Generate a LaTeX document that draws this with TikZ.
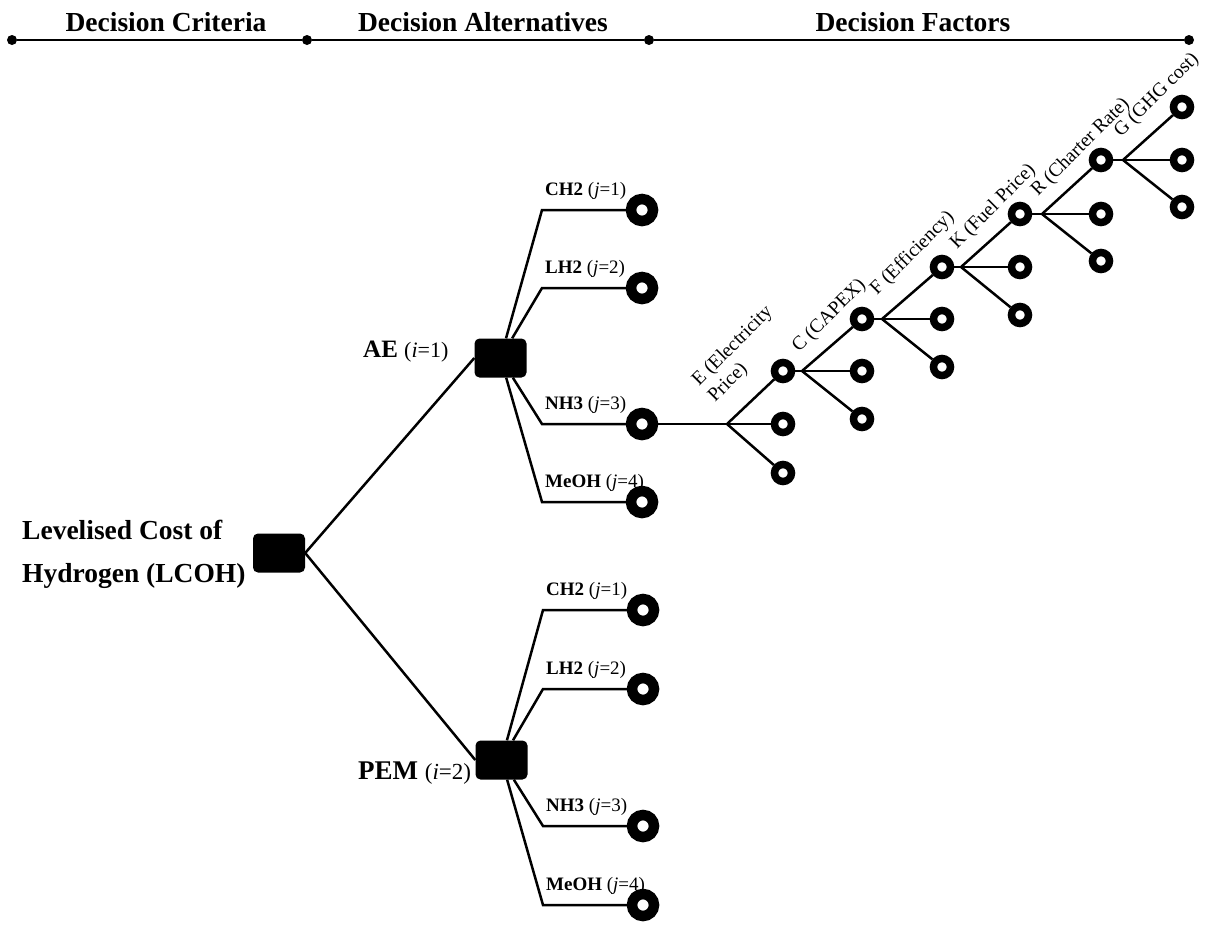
\documentclass[tikz,border=0pt]{standalone}
\usepackage{fontspec}
\setmainfont{Liberation Serif}
\begin{document}
\begin{tikzpicture}[x=1pt,y=-1pt,
  conn/.style={line width=2.5pt},
  box/.style={fill=black, rounded corners=5pt, minimum width=52pt, minimum height=39pt, inner sep=0pt},
  leaf/.style={circle, draw=black, fill=white, line width=10.5pt, minimum size=22pt, inner sep=0pt},
  fac/.style={circle, draw=black, fill=white, line width=7.5pt, minimum size=17pt, inner sep=0pt},
  hdr/.style={font=\fontsize{27.5}{30}\selectfont\bfseries, anchor=base, inner sep=0pt},
  roottxt/.style={font=\fontsize{27.5}{30}\selectfont\bfseries, anchor=base west, inner sep=0pt},
  lbl/.style={font=\fontsize{19}{22}\selectfont, anchor=base west, inner sep=0pt},
  flbl/.style={font=\fontsize{19.5}{22}\selectfont, anchor=base west, rotate=45, inner sep=0pt},
  hdot/.style={circle, fill=black, minimum size=10pt, inner sep=0pt}
]
\useasboundingbox (0,0) rectangle (1210,924);
% header
\node[hdot] (h1) at (12,40) {};
\node[hdot] (h2) at (307,40) {};
\node[hdot] (h3) at (649,40) {};
\node[hdot] (h4) at (1189,40) {};
\draw[line width=2.8pt] (h1) -- (h2) -- (h3) -- (h4);
\node[hdr] (t1) at (166,31) {Decision Criteria};
\node[hdr] (t2) at (483,31) {Decision Alternatives};
\node[hdr] (t3) at (913,31) {Decision Factors};
% root
\node[box] (root) at (279,553) {};
\node[roottxt] (rt1) at (22,539) {Levelised Cost of};
\node[roottxt] (rt2) at (22,582) {Hydrogen (LCOH)};
% alternatives
\node[box] (ae) at (500.5,358) {};
\node[box] (pem) at (501.5,760) {};
\node[anchor=base west, inner sep=0pt] (aelbl) at (363,357) {\fontsize{25}{28}\selectfont\textbf{AE} \fontsize{22}{24}\selectfont(\textit{i}=1)};
\node[anchor=base west, inner sep=0pt] (pemlbl) at (358,779) {\fontsize{27}{30}\selectfont\textbf{PEM} \fontsize{23}{26}\selectfont(\textit{i}=2)};
\draw[conn] (root.east) -- (ae.west);
\draw[conn] (root.east) -- (pem.west);
% AE leaves
\foreach \n/\y/\t/\k in {1/210/CH2/1, 2/288/LH2/2, 3/424/NH3/3, 4/502/MeOH/4}{
  \coordinate (ae\n) at (542,\y);
  \node[leaf] (a\n) at (642,\y) {};
  \draw[conn] (ae) -- (ae\n) -- (a\n);
  \node[lbl] (al\n) at (545,\y-14.5) {\textbf{\t} (\textit{j}=\k)};
}
% PEM leaves
\foreach \n/\y/\t/\k in {1/610/CH2/1, 2/689/LH2/2, 3/826/NH3/3, 4/905/MeOH/4}{
  \coordinate (pe\n) at (543,\y);
  \node[leaf] (p\n) at (643,\y) {};
  \draw[conn] (pem) -- (pe\n) -- (p\n);
  \node[lbl] (pl\n) at (546,\y-14.5) {\textbf{\t} (\textit{j}=\k)};
}
% factor tree
\coordinate (j1) at (727,424);
\node[fac] (f1u) at (783,371) {};
\node[fac] (f1m) at (783,424) {};
\node[fac] (f1d) at (783,473) {};
\coordinate (j2) at (802,371);
\node[fac] (f2u) at (862,319) {};
\node[fac] (f2m) at (862,371) {};
\node[fac] (f2d) at (862,419) {};
\coordinate (j3) at (882,319);
\node[fac] (f3u) at (942,267) {};
\node[fac] (f3m) at (942,319) {};
\node[fac] (f3d) at (942,367) {};
\coordinate (j4) at (961,267);
\node[fac] (f4u) at (1020,214) {};
\node[fac] (f4m) at (1020,267) {};
\node[fac] (f4d) at (1020,315) {};
\coordinate (j5) at (1042,214);
\node[fac] (f5u) at (1101,160) {};
\node[fac] (f5m) at (1101,214) {};
\node[fac] (f5d) at (1101,261) {};
\coordinate (j6) at (1123,160);
\node[fac] (f6u) at (1182,107) {};
\node[fac] (f6m) at (1182,160) {};
\node[fac] (f6d) at (1182,207) {};
\draw[conn] (a3) -- (j1);
\draw[conn] (f1u) -- (j2);
\draw[conn] (f2u) -- (j3);
\draw[conn] (f3u) -- (j4);
\draw[conn] (f4u) -- (j5);
\draw[conn] (f5u) -- (j6);
\foreach \l in {1,...,6}{
  \draw[conn] (j\l) -- (f\l u);
  \draw[conn] (j\l) -- (f\l m);
  \draw[conn] (j\l) -- (f\l d);
}
% factor labels
\node[flbl] (le1) at (699,387) {E (Electricity};
\node[flbl] (le2) at (715,403) {Price)};
\node[flbl] (lc) at (799,353) {C (CAPEX)};
\node[flbl] (lf) at (877,296) {F (Efficiency)};
\node[flbl] (lk) at (957,250) {K (Fuel Price)};
\node[flbl] (lr) at (1038,197) {R (Charter Rate)};
\node[flbl] (lg) at (1121,138) {G (GHG cost)};
\end{tikzpicture}
\end{document}
